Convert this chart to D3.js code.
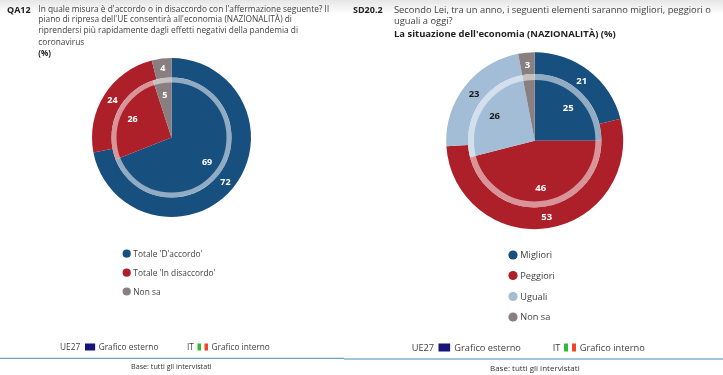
<!DOCTYPE html>
<html><head><meta charset="utf-8">
<script src="https://cdn.jsdelivr.net/npm/d3@7"></script>
<style>html,body{margin:0;padding:0;background:#fff}svg{display:block}text{font-family:"Open Sans",sans-serif;fill:#3f3f3f}</style>
</head><body><svg width="723" height="375"></svg>
<script>
const leftCategories=["Totale 'D'accordo'","Totale 'In disaccordo'","Non sa"];
const leftOuter=[72,24,4];
const leftInner=[69,26,5];
const rightCategories=["Migliori","Peggiori","Uguali","Non sa"];
const rightOuter=[21,53,23,3];
const rightInner=[25,46,26,3];
const leftColors=["#17507f","#ae2029","#8a7f80"];
const rightColors=["#17507f","#ae2029","#a3bdd6","#8a7f80"];
const rightLabelColors=["#fff","#fff","#1a1a1a","#fff"];
const leftQuestion=["In quale misura è d'accordo o in disaccordo con l'affermazione seguente? Il","piano di ripresa dell'UE consentirà all'economia (NAZIONALITÀ) di","riprendersi più rapidamente dagli effetti negativi della pandemia di","coronavirus"];
const rightQuestion=["Secondo Lei, tra un anno, i seguenti elementi saranno migliori, peggiori o","uguali a oggi?"];

const svg=d3.select("svg");
const defs=svg.append("defs");
const g=defs.append("linearGradient").attr("id","top").attr("x1",0).attr("x2",0).attr("y1",0).attr("y2",1);
g.append("stop").attr("offset",0).attr("stop-color","#e6e6e6");
g.append("stop").attr("offset",1).attr("stop-color","#fff");
defs.append("filter").attr("id","soft").attr("color-interpolation-filters","sRGB").append("feGaussianBlur").attr("stdDeviation",0.35);
svg.append("rect").attr("width",723).attr("height",14).attr("fill","url(#top)");
const root=svg.append("g").attr("filter","url(#soft)");

const pie=d3.pie().sort(null).value(d=>d);
function donut(cx,cy,R,ringR,ringW,outer,inner,colors,labelColors,outerLabelR,innerLabelR,labelSize,hideInner){
  const p=root.append("g").attr("transform",`translate(${cx},${cy})`);
  const oArc=d3.arc().innerRadius(ringR).outerRadius(R);
  const iArc=d3.arc().innerRadius(0).outerRadius(ringR);
  p.selectAll(".o").data(pie(outer)).join("path").attr("d",oArc).attr("fill",(d,i)=>colors[i]);
  p.selectAll(".i").data(pie(inner)).join("path").attr("d",iArc).attr("fill",(d,i)=>colors[i]);
  p.append("circle").attr("r",ringR-ringW/2).attr("fill","none").attr("stroke","#fff").attr("stroke-opacity",0.52).attr("stroke-width",ringW);
  const lab=(data,r,hide)=>p.selectAll(null).data(pie(data).filter((d,i)=>i!==hide)).join("text")
    .attr("transform",d=>{const a=(d.startAngle+d.endAngle)/2;return `translate(${Math.sin(a)*r},${-Math.cos(a)*r})`})
    .attr("text-anchor","middle").attr("dy","0.36em").attr("font-size",labelSize).attr("font-weight",700)
    .style("fill",d=>labelColors[d.index]).text(d=>d.data);
  lab(outer,outerLabelR,-1); lab(inner,innerLabelR,hideInner);
}
donut(171.5,137.5,79.5,60,5,leftOuter,leftInner,leftColors,["#fff","#fff","#fff"],70,43,9,-1);
donut(534.7,140.7,88.5,66.7,6,rightOuter,rightInner,rightColors,rightLabelColors,76.7,47.5,9.5,3);

function text(x,y,s,size,weight,col){return root.append("text").attr("x",x).attr("y",y).attr("font-size",size).attr("font-weight",weight||400).style("fill",col||"#3f3f3f").text(s);}
text(7,12.5,"QA12",9,700,"#222");
[12.3,22.3,33,44.7].forEach((y,i)=>text(38.3,y,leftQuestion[i],8.35));
text(38.3,56,"(%)",8,700,"#222");
text(353,12.5,"SD20.2",9,700,"#222");
[13,24.3].forEach((y,i)=>text(394,y,rightQuestion[i],9.35));
text(394,36.5,"La situazione dell'economia (NAZIONALITÀ)  (%)",9.45,700,"#222");

function legend(x,ys,cats,cols,size,r,tx){
  cats.forEach((c,i)=>{root.append("circle").attr("cx",x).attr("cy",ys[i]).attr("r",r).attr("fill",cols[i]);
    text(tx,ys[i]+3.2,c,size);});
}
legend(126.7,[253.7,272.7,291.5],leftCategories,leftColors,8.4,4.1,133.3);
legend(513,[255,275.5,296.5,317],rightCategories,rightColors,9.2,4.6,520.3);

function footer(ue,eFlag,es,it,iFlag,is,y,size,fh){
  text(ue,y,"UE27",size);
  root.append("rect").attr("x",eFlag).attr("y",y-fh+0.5).attr("width",fh*1.45).attr("height",fh).attr("fill","#14147a");
  text(es,y,"Grafico esterno",size);
  text(it,y,"IT",size);
  ["#2fbb3a","#fff","#f0452a"].forEach((c,i)=>root.append("rect").attr("x",iFlag+i*fh/2).attr("y",y-fh+0.5).attr("width",fh/2).attr("height",fh).attr("fill",c));
  text(is,y,"Grafico interno",size);
}
footer(60,85,98.7,187,197.5,211.5,350,8.3,7);
footer(411.7,438.5,454.3,552.7,564,579.7,351,9.25,8);

root.append("line").attr("x1",0).attr("x2",344).attr("y1",358.3).attr("y2",358.3).attr("stroke","#4a8bb5").attr("stroke-width",1);
root.append("line").attr("x1",344).attr("x2",723).attr("y1",359).attr("y2",359).attr("stroke","#4a8bb5").attr("stroke-width",1);
text(131,369,"Base: tutti gli intervistati",7.2,400,"#333");
text(490,371,"Base: tutti gli intervistati",8,400,"#333");
</script></body></html>
